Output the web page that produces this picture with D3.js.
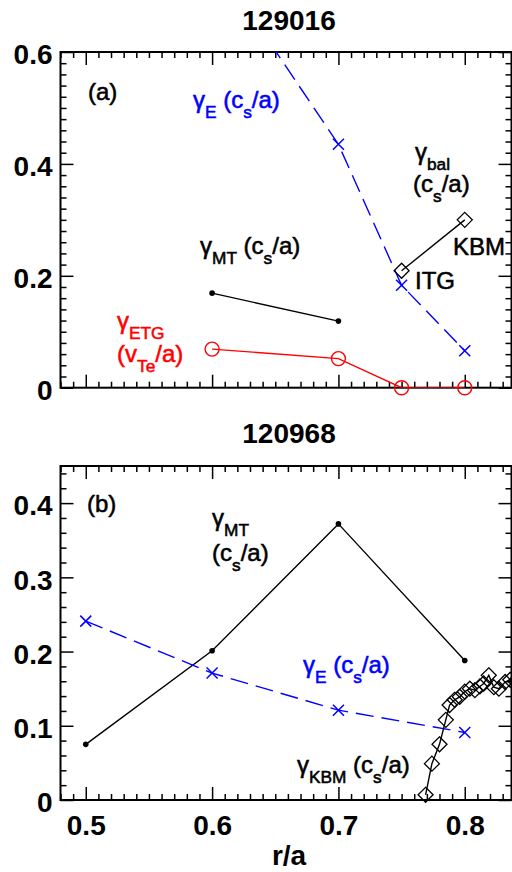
<!DOCTYPE html>
<html>
<head>
<meta charset="utf-8">
<script src="https://cdn.jsdelivr.net/npm/d3@7"></script>
<style>
  html, body { margin: 0; padding: 0; background: #fff; }
  svg { display: block; font-family: "Liberation Sans", Arial, Helvetica, sans-serif; }
  text { white-space: pre; }
</style>
</head>
<body>
<svg id="chart" width="512" height="872"></svg>
<script>
// ---- Panel (a): shot 129016 ----
const rE_a = [0.6, 0.7, 0.75, 0.8];
const gammaE_a = [0.77, 0.435, 0.183, 0.066];
const rMT_a = [0.6, 0.7];
const gammaMT_a = [0.169, 0.119];
const rETG_a = [0.6, 0.7, 0.75, 0.8];
const gammaETG_a = [0.069, 0.052, 0.0, 0.0];
const rBal_a = [0.75, 0.8];
const gammaBal_a = [0.209, 0.300];

// ---- Panel (b): shot 120968 ----
const rMT_b = [0.5, 0.6, 0.7, 0.8];
const gammaMT_b = [0.075, 0.201, 0.372, 0.188];
const rE_b = [0.5, 0.6, 0.7, 0.8];
const gammaE_b = [0.241, 0.171, 0.121, 0.091];
const rKBM_b = [0.769, 0.774, 0.780, 0.785, 0.788, 0.792, 0.796, 0.800, 0.804, 0.808,
                0.812, 0.815, 0.819, 0.823, 0.827, 0.832, 0.836, 0.840];
const gammaKBM_b = [0.007, 0.049, 0.075, 0.108, 0.128, 0.135, 0.139, 0.146, 0.150, 0.148,
                    0.153, 0.157, 0.168, 0.152, 0.150, 0.159, 0.162, 0.160];

// ---- Axis ticks ----
const xMajor = [0.5, 0.6, 0.7, 0.8];
const xTickLabels = ["0.5", "0.6", "0.7", "0.8"];
const yMajor_a = [0, 0.2, 0.4, 0.6];
const yTickLabels_a = ["0", "0.2", "0.4", "0.6"];
const yMajor_b = [0, 0.1, 0.2, 0.3, 0.4];
const yTickLabels_b = ["0", "0.1", "0.2", "0.3", "0.4"];

const titles = ["129016", "120968"];
const xTitle = "r/a";

const BLUE = "#0000ff", RED = "#ff0000", BLACK = "#000";
const svg = d3.select("#chart");

const left = 60.5, right = 511.5;
const x = d3.scaleLinear().domain([0.48, 0.837]).range([left, right]);

function zip(xs, ys) { return xs.map((v, i) => [v, ys[i]]); }

// Text with subscripts; a thin outline in the fill colour gives a medium weight.
function richText(g, px, py, parts, color, size) {
  const t = g.append("text").attr("x", px).attr("y", py)
    .attr("fill", color).attr("stroke", color).attr("stroke-width", 0.55)
    .style("font-size", size + "px");
  let shift = 0;
  parts.forEach(([s, sub]) => {
    const want = sub ? size * 0.42 : 0;
    t.append("tspan").attr("dy", want - shift)
      .style("font-size", sub ? (size * 0.72) + "px" : null).text(s);
    shift = want;
  });
  return t;
}

function panel(cfg) {
  const { top, bottom, yMax, yMajor, yLabels, yMinorStep, id, showX } = cfg;
  const y = d3.scaleLinear().domain([0, yMax]).range([bottom, top]);
  const g = svg.append("g");

  g.append("clipPath").attr("id", id).append("rect")
    .attr("x", left).attr("y", top).attr("width", right - left).attr("height", bottom - top);

  const xMinor = d3.range(48, 84).map(d => d / 100).filter(v => !xMajor.some(m => Math.abs(m - v) < 1e-9));
  const yMinor = d3.range(0, Math.round(yMax / yMinorStep) + 1).map(i => +(i * yMinorStep).toFixed(4))
    .filter(v => v <= yMax && !yMajor.some(m => Math.abs(m - v) < 1e-9));

  const axStyle = sel => {
    sel.select(".domain").remove();
    sel.selectAll(".tick line").attr("stroke", BLACK).attr("stroke-width", 1.5);
  };

  // bottom ticks (inward)
  g.append("g").attr("transform", `translate(0,${bottom})`)
    .call(d3.axisBottom(x).tickValues(xMinor).tickSize(-6).tickFormat(""))
    .call(axStyle);
  const xb = g.append("g").attr("transform", `translate(0,${bottom})`)
    .call(d3.axisBottom(x).tickValues(xMajor).tickSize(-13).tickPadding(15)
      .tickFormat((d, i) => showX ? xTickLabels[i] : ""))
    .call(axStyle);
  xb.selectAll("text").style("font-size", "28px").style("font-weight", "bold")
    .attr("fill", BLACK).style("font-family", "Liberation Sans, Arial, sans-serif");

  // top ticks (inward)
  g.append("g").attr("transform", `translate(0,${top})`)
    .call(d3.axisTop(x).tickValues(xMinor).tickSize(-6).tickFormat(""))
    .call(axStyle);
  g.append("g").attr("transform", `translate(0,${top})`)
    .call(d3.axisTop(x).tickValues(xMajor).tickSize(-13).tickFormat(""))
    .call(axStyle);

  // left ticks (inward)
  g.append("g").attr("transform", `translate(${left},0)`)
    .call(d3.axisLeft(y).tickValues(yMinor).tickSize(-6).tickFormat(""))
    .call(axStyle);
  const yl = g.append("g").attr("transform", `translate(${left},0)`)
    .call(d3.axisLeft(y).tickValues(yMajor).tickSize(-13).tickPadding(8)
      .tickFormat((d, i) => yLabels[i]))
    .call(axStyle);
  yl.selectAll("text").style("font-size", "28px").style("font-weight", "bold")
    .attr("dy", "0.42em").attr("fill", BLACK)
    .style("font-family", "Liberation Sans, Arial, sans-serif");

  // right ticks (inward)
  g.append("g").attr("transform", `translate(${right},0)`)
    .call(d3.axisRight(y).tickValues(yMinor).tickSize(-6).tickFormat(""))
    .call(axStyle);
  g.append("g").attr("transform", `translate(${right},0)`)
    .call(d3.axisRight(y).tickValues(yMajor).tickSize(-13).tickFormat(""))
    .call(axStyle);

  // frame
  g.append("rect").attr("x", left).attr("y", top)
    .attr("width", right - left).attr("height", bottom - top)
    .attr("fill", "none").attr("stroke", BLACK).attr("stroke-width", 2);

  return { g, y, clip: `url(#${id})` };
}

const line = (y) => d3.line().x(d => x(d[0])).y(d => y(d[1]));

function drawLine(P, pts, color, dash) {
  P.g.append("path").datum(pts).attr("d", line(P.y))
    .attr("fill", "none").attr("stroke", color).attr("stroke-width", 1.4)
    .attr("stroke-dasharray", dash || null).attr("clip-path", P.clip);
}
function inRange(P, pts) {
  const [y0, y1] = P.y.domain();
  return pts.filter(d => d[1] >= y0 && d[1] <= y1);
}
function drawDots(P, pts) {
  P.g.selectAll(null).data(inRange(P, pts)).join("circle")
    .attr("cx", d => x(d[0])).attr("cy", d => P.y(d[1])).attr("r", 2.8).attr("fill", BLACK);
}
function drawCrosses(P, pts, color) {
  const s = 5.5;
  P.g.selectAll(null).data(inRange(P, pts)).join("path")
    .attr("d", d => {
      const cx = x(d[0]), cy = P.y(d[1]);
      return `M${cx - s},${cy - s}L${cx + s},${cy + s}M${cx - s},${cy + s}L${cx + s},${cy - s}`;
    })
    .attr("stroke", color).attr("stroke-width", 1.5).attr("fill", "none");
}
function drawCircles(P, pts, color) {
  P.g.selectAll(null).data(inRange(P, pts)).join("circle")
    .attr("cx", d => x(d[0])).attr("cy", d => P.y(d[1])).attr("r", 7)
    .attr("fill", "none").attr("stroke", color).attr("stroke-width", 1.4);
}
function drawDiamonds(P, pts) {
  const s = 7.5;
  P.g.selectAll(null).data(inRange(P, pts)).join("path")
    .attr("d", d => {
      const cx = x(d[0]), cy = P.y(d[1]);
      return `M${cx},${cy - s}L${cx + s},${cy}L${cx},${cy + s}L${cx - s},${cy}Z`;
    })
    .attr("fill", "none").attr("stroke", BLACK).attr("stroke-width", 1.3);
}

// ---------- Panel (a) ----------
const A = panel({ top: 52, bottom: 387.7, yMax: 0.6, yMajor: yMajor_a, yLabels: yTickLabels_a,
                  yMinorStep: 0.02, id: "clipA", showX: false });

const ptsE_a = zip(rE_a, gammaE_a), ptsMT_a = zip(rMT_a, gammaMT_a);
const ptsETG_a = zip(rETG_a, gammaETG_a), ptsBal_a = zip(rBal_a, gammaBal_a);
drawLine(A, ptsE_a, BLUE, "18,8");
drawCrosses(A, ptsE_a, BLUE);
drawLine(A, ptsMT_a, BLACK);
drawDots(A, ptsMT_a);
drawLine(A, ptsETG_a, RED);
drawCircles(A, ptsETG_a, RED);
drawLine(A, ptsBal_a, BLACK);
drawDiamonds(A, ptsBal_a);

const FS = 24;
richText(A.g, 88, 100, [["(a)", false]], BLACK, FS);
richText(A.g, 193, 108, [["γ", false], ["E", true], [" (c", false], ["s", true], ["/a)", false]], BLUE, FS);
richText(A.g, 200, 254, [["γ", false], ["MT", true], [" (c", false], ["s", true], ["/a)", false]], BLACK, FS);
richText(A.g, 117, 329, [["γ", false], ["ETG", true]], RED, FS);
richText(A.g, 117, 362, [["(v", false], ["Te", true], ["/a)", false]], RED, FS);
richText(A.g, 415, 160, [["γ", false], ["bal", true]], BLACK, FS);
richText(A.g, 413, 192, [["(c", false], ["s", true], ["/a)", false]], BLACK, FS);
richText(A.g, 453, 255, [["KBM", false]], BLACK, FS);
richText(A.g, 415, 289, [["ITG", false]], BLACK, FS);

// ---------- Panel (b) ----------
const B = panel({ top: 466, bottom: 800, yMax: 0.45, yMajor: yMajor_b, yLabels: yTickLabels_b,
                  yMinorStep: 0.02, id: "clipB", showX: true });

const ptsMT_b = zip(rMT_b, gammaMT_b), ptsE_b = zip(rE_b, gammaE_b), ptsKBM_b = zip(rKBM_b, gammaKBM_b);
drawLine(B, ptsMT_b, BLACK);
drawDots(B, ptsMT_b);
drawLine(B, ptsE_b, BLUE, "18,8");
drawCrosses(B, ptsE_b, BLUE);
drawLine(B, ptsKBM_b, BLACK);
drawDiamonds(B, ptsKBM_b);

richText(B.g, 87, 512, [["(b)", false]], BLACK, FS);
richText(B.g, 212, 526, [["γ", false], ["MT", true]], BLACK, FS);
richText(B.g, 212, 561, [["(c", false], ["s", true], ["/a)", false]], BLACK, FS);
richText(B.g, 303, 673, [["γ", false], ["E", true], [" (c", false], ["s", true], ["/a)", false]], BLUE, FS);
richText(B.g, 297, 773, [["γ", false], ["KBM", true], [" (c", false], ["s", true], ["/a)", false]], BLACK, FS);

// ---------- Titles and x label ----------
const mid = (left + right) / 2 + 3;
svg.append("text").attr("x", mid).attr("y", 30).attr("text-anchor", "middle")
  .style("font-size", "28px").style("font-weight", "bold").text(titles[0]);
svg.append("text").attr("x", mid).attr("y", 443).attr("text-anchor", "middle")
  .style("font-size", "28px").style("font-weight", "bold").text(titles[1]);
svg.append("text").attr("x", mid).attr("y", 865).attr("text-anchor", "middle")
  .style("font-size", "28px").style("font-weight", "bold").text(xTitle);
</script>
</body>
</html>
